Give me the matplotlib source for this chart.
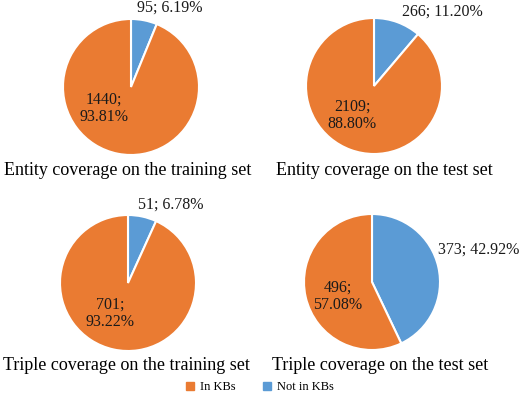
import matplotlib.pyplot as plt
from matplotlib.patches import Patch

plt.rcParams['font.family'] = ['Liberation Serif', 'DejaVu Serif']

# data
titles = ['Entity coverage on the training set', 'Entity coverage on the test set',
          'Triple coverage on the training set', 'Triple coverage on the test set']
in_kbs = [1440, 2109, 701, 496]
not_in_kbs = [95, 266, 51, 373]
legend_labels = ['In KBs', 'Not in KBs']

orange = '#EA7B32'
blue = '#5B9BD5'

W, H = 520, 394
fig = plt.figure(figsize=(W / 100, H / 100), dpi=100)

# pie centres / radius in pixels (from top-left)
centres = [(131, 87), (374, 86), (128, 283), (372, 282)]
R = 68
# label positions in pie-radius units
in_pos = [(-0.40, -0.31), (-0.32, -0.43), (-0.26, -0.44), (-0.50, -0.21)]
out_pos = [(0.57, 1.16), (1.01, 1.10), (0.63, 1.15), (1.57, 0.47)]
title_pos = [(128, 170), (384, 170), (126, 365), (380, 365)]

for i in range(4):
    cx, cy = centres[i]
    ax = fig.add_axes([(cx - R) / W, 1 - (cy + R) / H, 2 * R / W, 2 * R / H])
    vals = [not_in_kbs[i], in_kbs[i]]
    ax.pie(vals, colors=[blue, orange], startangle=90, counterclock=False,
           radius=1, wedgeprops=dict(edgecolor='white', linewidth=1.5))
    ax.set_xlim(-1, 1)
    ax.set_ylim(-1, 1)
    ax.set_aspect('equal')
    ax.axis('off')
    tot = sum(vals)
    ax.text(*in_pos[i], f"{in_kbs[i]};\n{in_kbs[i] / tot * 100:.2f}%", ha='center', va='center',
            fontsize=11.5, color='#1a1a1a', clip_on=False, linespacing=1.1)
    ax.text(*out_pos[i], f"{not_in_kbs[i]}; {not_in_kbs[i] / tot * 100:.2f}%", ha='center', va='center',
            fontsize=11.5, color='#1a1a1a', clip_on=False)
    fig.text(title_pos[i][0] / W, 1 - title_pos[i][1] / H, titles[i], ha='center', va='center',
             fontsize=13, color='black')

handles = [Patch(color=orange), Patch(color=blue)]
fig.legend(handles, legend_labels, loc='center', bbox_to_anchor=(0.5, 1 - 387 / H), ncol=2,
           frameon=False, fontsize=9, handlelength=0.6, handleheight=0.6, handletextpad=0.5,
           columnspacing=2.2)

fig.savefig('out.png', dpi=100)
